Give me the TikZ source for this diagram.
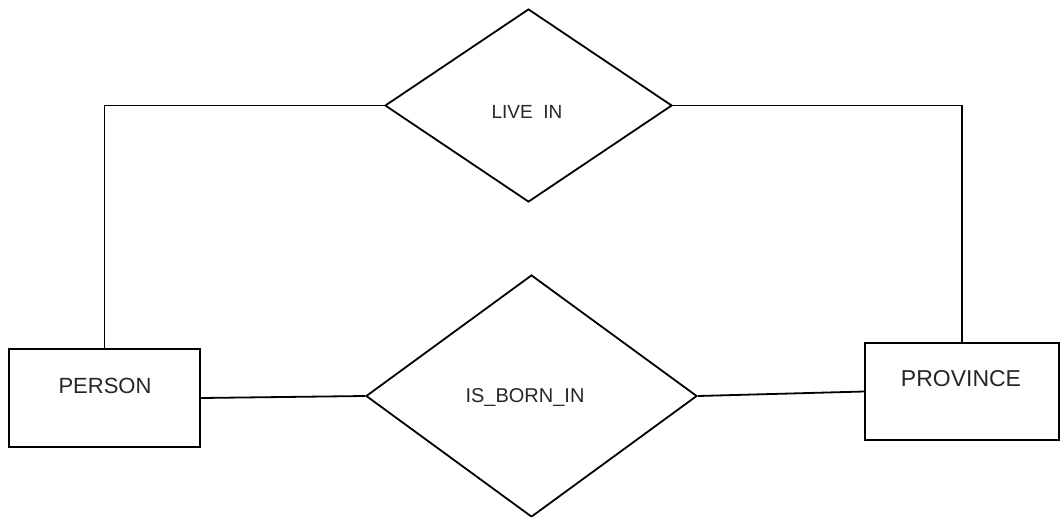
\documentclass[tikz,border=0pt]{standalone}
\usepackage{fontspec}
\setmainfont{Liberation Sans}
\usetikzlibrary{shapes.geometric}
\begin{document}
\begin{tikzpicture}[x=1pt,y=-1pt,
  ent/.style={draw, line width=1.8pt, rectangle, inner sep=0pt},
  rel/.style={draw, line width=1.8pt, diamond, inner sep=0pt},
  lbl/.style={inner sep=0pt, text=black!85},
  conn/.style={line width=1.8pt}]
\useasboundingbox (0,0) rectangle (1061,517);
\node[ent, minimum width=191pt, minimum height=98pt] (person) at (104.5,398) {};
\node[ent, minimum width=194pt, minimum height=97pt] (province) at (962,391.5) {};
\node[rel, minimum width=287pt, minimum height=193pt] (live) at (528.5,105.5) {};
\node[rel, minimum width=331pt, minimum height=242pt] (born) at (531.5,396) {};
\node[lbl, font=\fontsize{22}{24}\selectfont] (tperson) at (105,386) {PERSON};
\node[lbl, font=\fontsize{23}{25}\selectfont] (tprovince) at (961,379) {PROVINCE};
\node[lbl, font=\fontsize{19}{21}\selectfont] (tlive) at (527,112) {LIVE\ \ IN};
\node[lbl, font=\fontsize{20}{22}\selectfont] (tborn) at (525,397) {IS\_BORN\_IN};
\draw[conn] (person.north) |- (live.west);
\draw[conn] (live.east) -| (province.north);
\draw[conn] (person.east) -- (born.west);
\draw[conn] (born.east) -- (province.west);
\end{tikzpicture}
\end{document}
